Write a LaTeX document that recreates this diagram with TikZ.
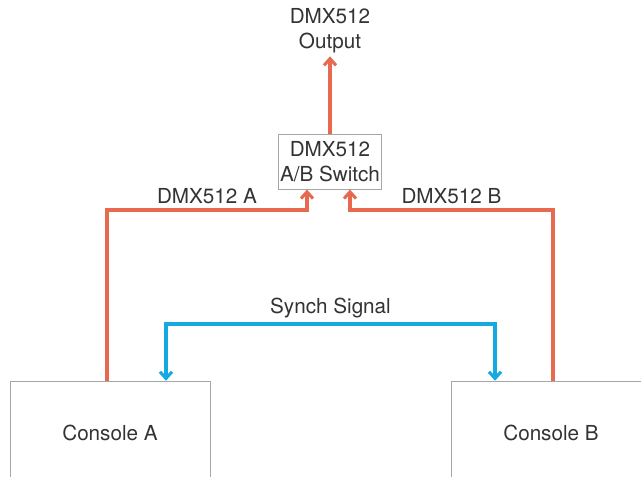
\documentclass[tikz,border=0pt]{standalone}
\usepackage{fontspec}
\setmainfont{TeX Gyre Heros}
\usetikzlibrary{arrows.meta}
\definecolor{dmxred}{RGB}{230,105,80}
\definecolor{synchblue}{RGB}{20,170,225}
\tikzset{
    box/.style={draw=gray!70, thin, align=center, inner sep=3pt},
    lbl/.style={font=\fontsize{15.5}{19}\selectfont, text=black!80},
    dmx/.style={dmxred, line width=2.3pt, -{Straight Barb[length=5pt,width=9pt]}},
    synch/.style={synchblue, line width=2.3pt, {Straight Barb[length=5pt,width=9pt]}-{Straight Barb[length=5pt,width=9pt]}}
}
\begin{document}
\begin{tikzpicture}[x=0.75pt, y=-0.75pt]
                \clip (0,0) rectangle (641,477);
                \fill[white] (0,0) rectangle (641,477);
                \node[box, lbl, minimum width=150pt, minimum height=78pt] (consA) at (110,433) {Console A};
                \node[box, lbl, minimum width=150pt, minimum height=78pt] (consB) at (551,433) {Console B};
                \node[box, lbl, minimum width=77pt, minimum height=41pt, inner sep=0pt] (sw) at (330,162) {DMX512\\A/B Switch};
                \node[lbl, align=center, inner sep=2pt] (out) at (330,31) {DMX512\\Output};
                \draw[dmx] (sw) -- (out);
                \draw[dmx] (consA.north -| 107,0) -- (107,210) -| node[pos=0.25, above, lbl] {DMX512 A} (sw.south -| 307,0);
                \draw[dmx] (consB.north -| 553,0) -- (553,210) -| node[pos=0.25, above, lbl] {DMX512 B} (sw.south -| 350,0);
                \draw[synch] (consA.north -| 166,0) -- (166,324) -- node[above, lbl] {Synch Signal} (495,324) -- (consB.north -| 495,0);
            \end{tikzpicture}
\end{document}
